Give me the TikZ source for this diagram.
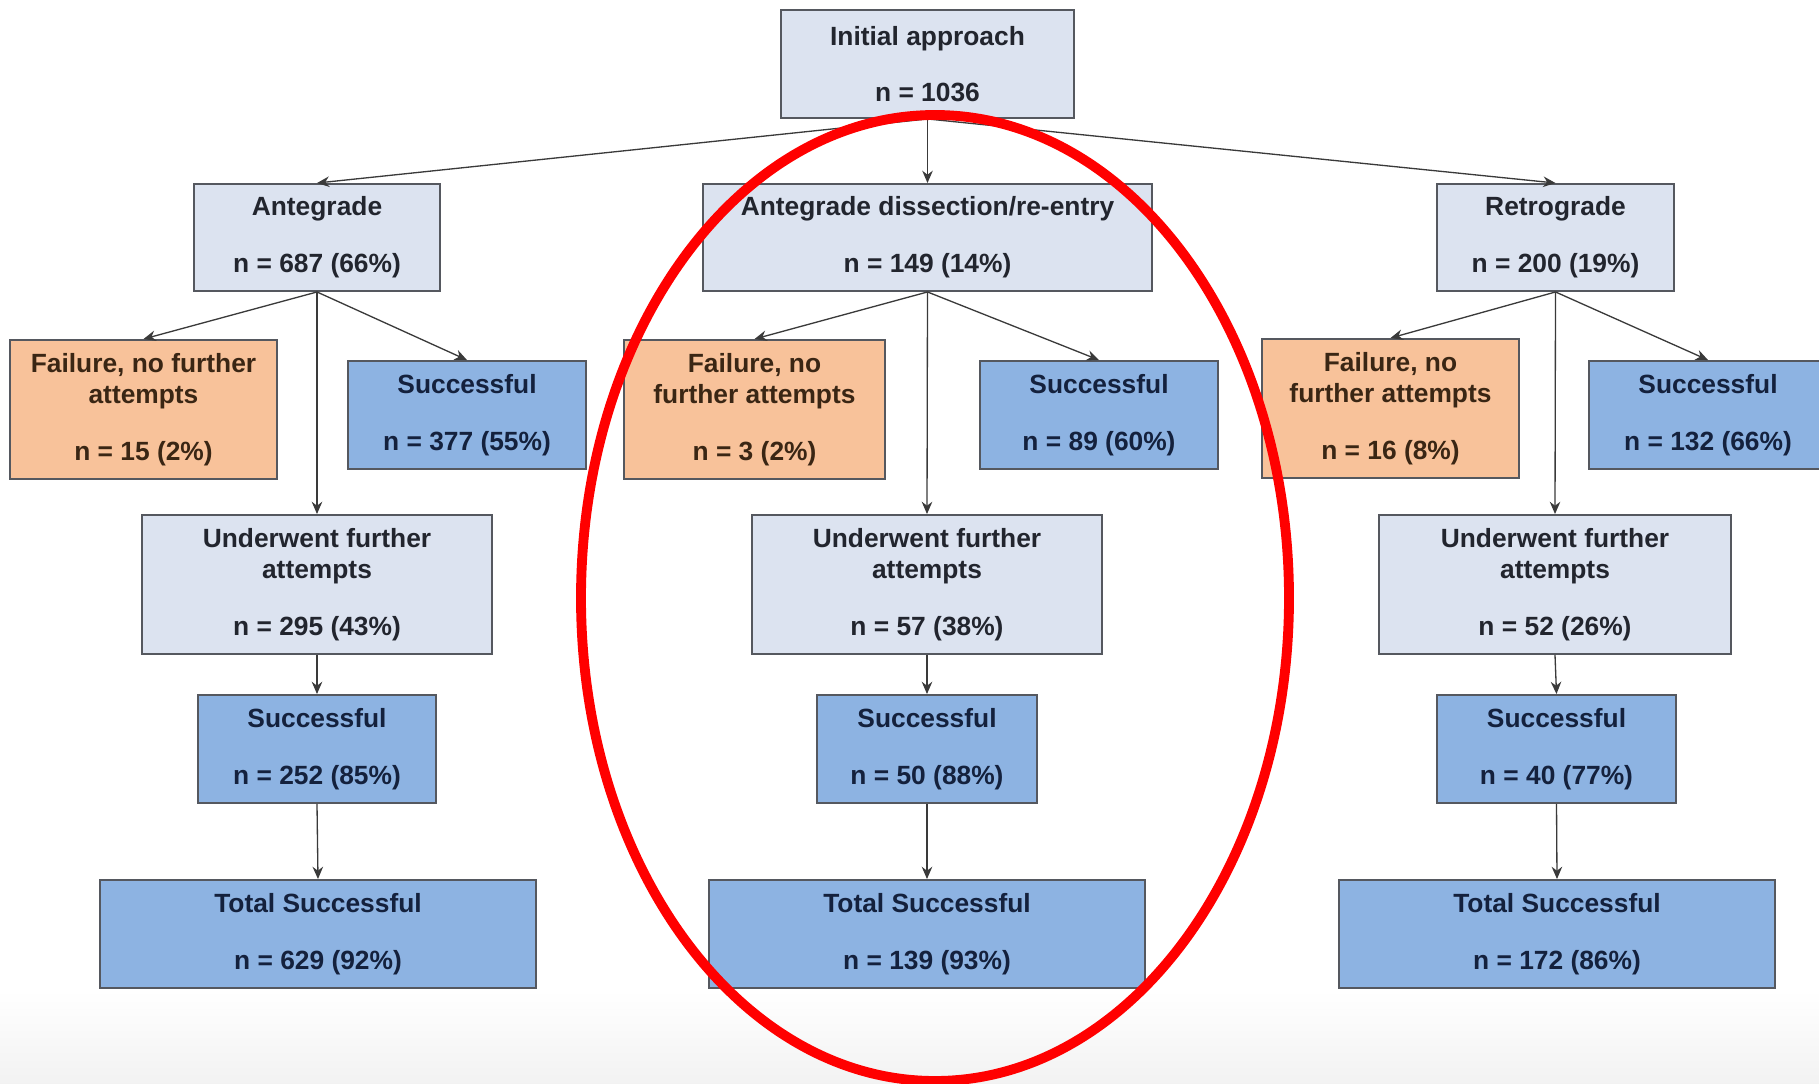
\documentclass[tikz,border=0pt]{standalone}
\usepackage{fontspec}
\setmainfont{Liberation Sans}
\usetikzlibrary{arrows.meta}
\definecolor{paleblue}{HTML}{DCE3F0}
\definecolor{midblue}{HTML}{8DB3E2}
\definecolor{peach}{HTML}{F8C29A}
\definecolor{edgegray}{HTML}{55585F}
\definecolor{inkpale}{HTML}{22252E}
\definecolor{inkblue}{HTML}{14213D}
\definecolor{inkpeach}{HTML}{3A2614}
\definecolor{linkgray}{HTML}{3A3A3A}
\tikzset{
  x=0.02cm, y=-0.02cm,
  box/.style 2 args={draw=edgegray, line width=1.1pt, inner sep=0pt,
    minimum width=#1*0.02cm, minimum height=#2*0.02cm, align=center,
    font=\fontsize{15}{17.8}\selectfont\bfseries,
    execute at begin node={\rule{0pt}{16.5pt}}},
  palebox/.style={fill=paleblue, text=inkpale},
  bluebox/.style={fill=midblue, text=inkblue},
  peachbox/.style={fill=peach, text=inkpeach},
  link/.style={draw=linkgray, line width=0.75pt, -{Stealth[length=7pt,width=6pt]}},
}
\newcommand{\gapline}{\\[14.5pt]}
\begin{document}
\begin{tikzpicture}
\useasboundingbox (0,0) rectangle (1819,1084);
\shade[top color=white, bottom color=black!5] (0,990) rectangle (1819,1084);

% top level
\node[box={293}{108}, palebox] (init) at (927.5,64) {Initial approach\gapline n = 1036};

% approaches
\node[box={246}{107}, palebox] (ante)  at (317,237.5)   {Antegrade\gapline n = 687 (66\%)};
\node[box={449}{107}, palebox] (adr)   at (927.5,237.5) {Antegrade dissection/re-entry\gapline n = 149 (14\%)};
\node[box={237}{107}, palebox] (retro) at (1555.5,237.5){Retrograde\gapline n = 200 (19\%)};

% first outcomes
\node[box={267}{139}, peachbox] (failL) at (143.5,409.5) {Failure, no further\\attempts\gapline n = 15 (2\%)};
\node[box={238}{108}, bluebox]  (succL) at (467,415)     {Successful\gapline n = 377 (55\%)};
\node[box={261}{139}, peachbox] (failM) at (754.5,409.5) {Failure, no\\further attempts\gapline n = 3 (2\%)};
\node[box={238}{108}, bluebox]  (succM) at (1099,415)    {Successful\gapline n = 89 (60\%)};
\node[box={257}{139}, peachbox] (failR) at (1390.5,408.5){Failure, no\\further attempts\gapline n = 16 (8\%)};
\node[box={238}{108}, bluebox]  (succR) at (1708,415)    {Successful\gapline n = 132 (66\%)};

% further attempts
\node[box={350}{139}, palebox] (undL) at (317,584.5)  {Underwent further\\attempts\gapline n = 295 (43\%)};
\node[box={350}{139}, palebox] (undM) at (927,584.5)  {Underwent further\\attempts\gapline n = 57 (38\%)};
\node[box={352}{139}, palebox] (undR) at (1555,584.5) {Underwent further\\attempts\gapline n = 52 (26\%)};

\node[box={238}{108}, bluebox] (s2L) at (317,749)    {Successful\gapline n = 252 (85\%)};
\node[box={220}{108}, bluebox] (s2M) at (927,749)    {Successful\gapline n = 50 (88\%)};
\node[box={239}{108}, bluebox] (s2R) at (1556.5,749) {Successful\gapline n = 40 (77\%)};

% totals
\node[box={436}{108}, bluebox] (totL) at (318,934)  {Total Successful\gapline n = 629 (92\%)};
\node[box={436}{108}, bluebox] (totM) at (927,934)  {Total Successful\gapline n = 139 (93\%)};
\node[box={436}{108}, bluebox] (totR) at (1557,934) {Total Successful\gapline n = 172 (86\%)};

% connectors
\draw[link] (init.south) -- (ante.north);
\draw[link] (init.south) -- (adr.north);
\draw[link] (init.south) -- (retro.north);
\foreach \p/\a/\b/\c in {ante/failL/succL/undL, adr/failM/succM/undM, retro/failR/succR/undR}{
  \draw[link] (\p.south) -- (\a.north);
  \draw[link] (\p.south) -- (\b.north);
  \draw[link] (\p.south) -- (\c.north);
}
\foreach \u/\s/\t in {undL/s2L/totL, undM/s2M/totM, undR/s2R/totR}{
  \draw[link] (\u.south) -- (\s.north);
  \draw[link] (\s.south) -- (\t.north);
}

% highlight ring round the middle branch
\draw[red, line width=5.6pt] (935,598) ellipse [x radius=354, y radius=483];
\end{tikzpicture}
\end{document}
